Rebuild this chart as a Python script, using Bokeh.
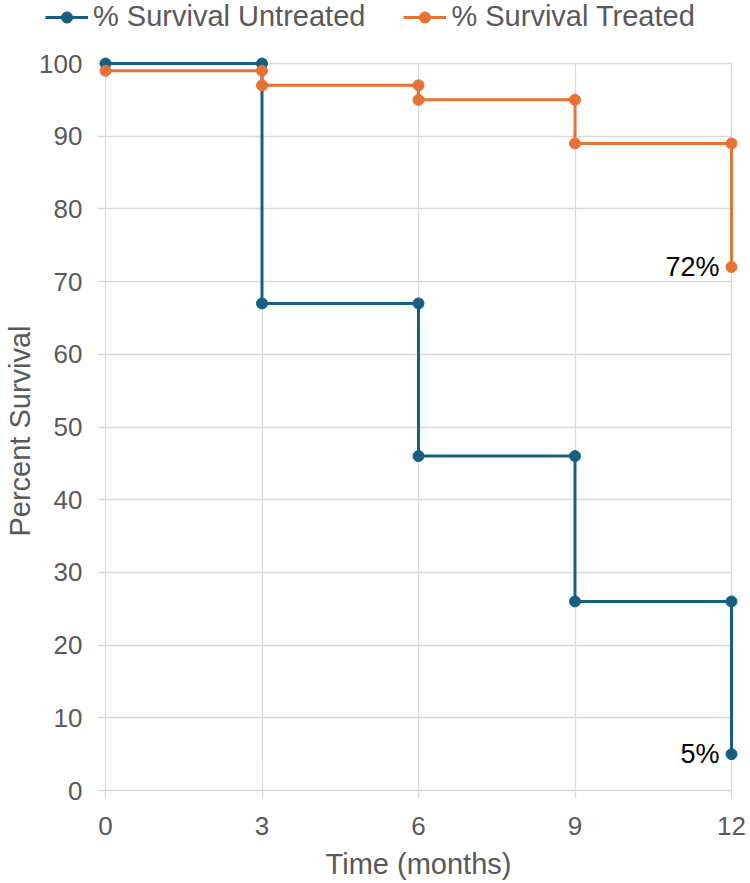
from bokeh.plotting import figure
from bokeh.layouts import column
from bokeh.models import (Legend, LegendItem, FixedTicker, ColumnDataSource, Range1d)
from bokeh.core.properties import value
from bokeh.embed import file_html
from bokeh.resources import INLINE

# ---- data ----
time_months = [0, 3, 3, 6, 6, 9, 9, 12, 12]
survival_untreated = [100, 100, 67, 67, 46, 46, 26, 26, 5]
survival_treated = [99, 99, 97, 97, 95, 95, 89, 89, 72]
x_ticks = [0, 3, 6, 9, 12]
y_ticks = [0, 10, 20, 30, 40, 50, 60, 70, 80, 90, 100]
series_names = ["% Survival Untreated", "% Survival Treated"]
x_title = "Time (months)"
y_title = "Percent  Survival"

BLUE = "#156082"
ORANGE = "#E97132"
GRID = "#D9D9D9"
TXT = "#595959"
FONT = "Liberation Sans"

W = 748
LEG_H = 40
TOP = 15            # main figure: space above the plot frame
FRAME_H = 743
BOTTOM = 84
MAIN_H = TOP + FRAME_H + BOTTOM
X0, X1 = 0, 12
Y0, Y1 = 0, 100
xpad = 8 / (626 / 12)
ypad = 8 / (727 / 100)

src_u = ColumnDataSource(dict(x=time_months, y=survival_untreated))
src_t = ColumnDataSource(dict(x=time_months, y=survival_treated))


def add_series(fig):
    lu = fig.line("x", "y", source=src_u, line_color=BLUE, line_width=3)
    su = fig.scatter("x", "y", source=src_u, size=11, fill_color=BLUE, line_color=BLUE)
    lt = fig.line("x", "y", source=src_t, line_color=ORANGE, line_width=3)
    st = fig.scatter("x", "y", source=src_t, size=11, fill_color=ORANGE, line_color=ORANGE)
    return lu, su, lt, st


# ---- main chart ----
p = figure(width=W, height=MAIN_H, output_backend="svg", toolbar_location=None,
           x_range=Range1d(X0 - xpad, X1 + xpad), y_range=Range1d(Y0 - ypad, Y1 + ypad),
           min_border_left=97, min_border_right=9, min_border_top=TOP,
           min_border_bottom=BOTTOM)
p.title.visible = False
p.outline_line_color = None
p.frame_align = False

for ax in (p.xaxis[0], p.yaxis[0]):
    ax.axis_line_color = None
    ax.major_tick_line_color = None
    ax.minor_tick_line_color = None
    ax.major_tick_out = 0
    ax.major_tick_in = 0
    ax.major_label_text_font = FONT
    ax.major_label_text_font_size = "26px"
    ax.major_label_text_color = TXT
    ax.axis_label_text_font = FONT
    ax.axis_label_text_font_size = "29px"
    ax.axis_label_text_font_style = "normal"
    ax.axis_label_text_color = TXT
p.xaxis.ticker = FixedTicker(ticks=x_ticks)
p.yaxis.ticker = FixedTicker(ticks=y_ticks)
p.xaxis.major_label_standoff = 18
p.yaxis.major_label_standoff = 15
p.xaxis.axis_label = x_title
p.yaxis.axis_label = y_title
p.xaxis.axis_label_standoff = 10
p.yaxis.axis_label_standoff = 0

p.xgrid.ticker = FixedTicker(ticks=x_ticks)
p.ygrid.ticker = FixedTicker(ticks=y_ticks)
for g in (p.xgrid[0], p.ygrid[0]):
    g.grid_line_color = GRID
    g.grid_line_width = 1.3
if hasattr(p.xgrid[0], "cross_bounds"):
    p.xgrid[0].cross_bounds = (Y0 - ypad, Y1)
    p.ygrid[0].cross_bounds = (X0 - xpad, X1)

add_series(p)

ends = ColumnDataSource(dict(
    x=[time_months[-1], time_months[-1]],
    y=[survival_treated[-1], survival_untreated[-1]],
    t=[f"{survival_treated[-1]}%", f"{survival_untreated[-1]}%"]))
p.text("x", "y", text="t", source=ends, x_offset=-12, text_align="right",
       text_baseline="middle", text_font=value(FONT), text_font_size="27px",
       text_color="black")

# ---- legend strip (same sources, glyphs kept out of its view) ----
lf = figure(width=W, height=LEG_H, output_backend="svg", toolbar_location=None,
            x_axis_type=None, y_axis_type=None,
            x_range=Range1d(-100, -99), y_range=Range1d(-100, -99),
            min_border_left=0, min_border_right=0, min_border_top=0, min_border_bottom=0)
lf.title.visible = False
lf.outline_line_color = None
lf.frame_align = False
lu, su, lt, st = add_series(lf)
legend = Legend(items=[LegendItem(label=series_names[0], renderers=[lu, su]),
                       LegendItem(label=series_names[1], renderers=[lt, st])],
                orientation="horizontal", location=(45, LEG_H - 33), margin=0, padding=0,
                spacing=38, label_standoff=5, glyph_width=43, glyph_height=28,
                label_text_font=FONT, label_text_font_size="29px", label_text_color=TXT,
                background_fill_alpha=0, border_line_color=None)
lf.add_layout(legend, "center")

layout = column(lf, p, spacing=0)
open("out.html", "w").write(file_html(layout, INLINE))
